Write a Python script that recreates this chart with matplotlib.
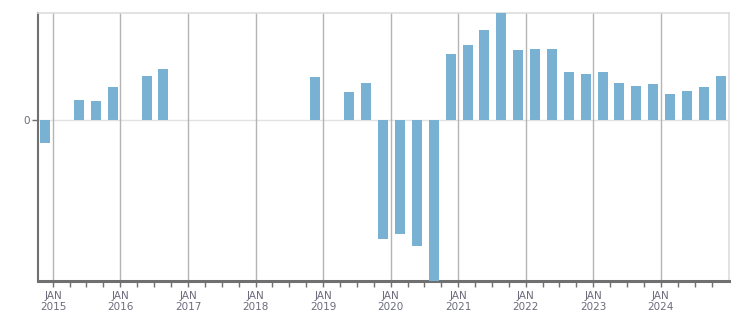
import pandas as pd
import matplotlib
matplotlib.use("Agg")
import matplotlib.pyplot as plt
import matplotlib.dates as mdates

# quarterly values (arbitrary units); None = no bar
quarters = ["2014Q4",
            "2015Q1", "2015Q2", "2015Q3", "2015Q4",
            "2016Q1", "2016Q2", "2016Q3", "2016Q4",
            "2017Q1", "2017Q2", "2017Q3", "2017Q4",
            "2018Q1", "2018Q2", "2018Q3", "2018Q4",
            "2019Q1", "2019Q2", "2019Q3", "2019Q4",
            "2020Q1", "2020Q2", "2020Q3", "2020Q4",
            "2021Q1", "2021Q2", "2021Q3", "2021Q4",
            "2022Q1", "2022Q2", "2022Q3", "2022Q4",
            "2023Q1", "2023Q2", "2023Q3", "2023Q4",
            "2024Q1", "2024Q2", "2024Q3", "2024Q4"]
values = [-23,
          0, 20, 19, 33,
          0, 44, 51, 0,
          0, 0, 0, 0,
          0, 0, 0, 43,
          0, 28, 37, -119,
          -114, -126, -175, 66,
          75, 90, 108, 70,
          71, 71, 48, 46,
          48, 37, 34, 36,
          26, 29, 33, 44]

year_ticks = list(range(2015, 2025))
bar_color = "#79b1d3"
text_color = "#6b6b7b"

dates = [pd.Period(q, freq="Q").start_time + pd.Timedelta(days=50) for q in quarters]

fig = plt.figure(figsize=(7.51, 3.13), dpi=100)
ax = fig.add_axes([38 / 751, 32 / 313, 691 / 751, 268 / 313])

ax.bar(dates, values, width=54, color=bar_color, zorder=3)

ax.set_xlim(pd.Timestamp("2014-10-12"), pd.Timestamp("2025-01-03"))
ax.set_ylim(-161, 107)

# year gridlines and quarter ticks
ax.xaxis.set_major_locator(mdates.YearLocator())
ax.xaxis.set_minor_locator(mdates.MonthLocator(bymonth=[4, 7, 10]))
ax.set_xticks([pd.Timestamp(f"{y}-01-01") for y in year_ticks])
ax.set_xticklabels([f"JAN\n{y}" for y in year_ticks])
ax.grid(axis="x", which="major", color="#b4b4b4", linewidth=1, zorder=1)
ax.axhline(0, color="#e2e2e2", linewidth=1, zorder=1)

ax.set_yticks([0])
ax.set_yticklabels(["0"])

ax.tick_params(axis="x", which="both", direction="out", length=4, width=1,
               color="#707070", labelsize=7.5, labelcolor=text_color, pad=3)
ax.tick_params(axis="y", direction="out", length=4, width=1,
               color="#707070", labelsize=7.5, labelcolor=text_color, pad=2)

ax.spines["left"].set_color("#707070")
ax.spines["left"].set_linewidth(1.5)
ax.spines["bottom"].set_color("#707070")
ax.spines["bottom"].set_linewidth(2.2)
ax.spines["top"].set_color("#dddddd")
ax.spines["right"].set_color("#dddddd")
ax.spines["top"].set_linewidth(1.2)
ax.spines["right"].set_linewidth(1.2)

fig.savefig("out.png", dpi=100)
